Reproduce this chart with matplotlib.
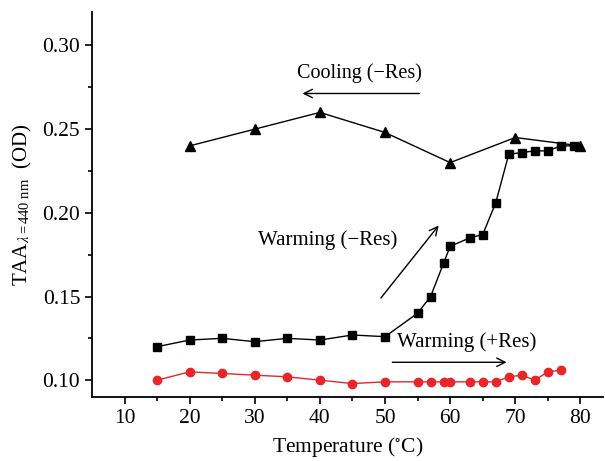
import matplotlib
matplotlib.use("Agg")
import matplotlib.pyplot as plt

plt.rcParams['font.family'] = ['Liberation Serif', 'DejaVu Serif']
plt.rcParams['mathtext.fontset'] = 'stix'

cool_t = [20, 30, 40, 50, 60, 70, 80]
cool_od = [0.240, 0.250, 0.260, 0.248, 0.230, 0.245, 0.240]

warm_t = [15, 20, 25, 30, 35, 40, 45, 50, 55, 57, 59, 60, 63, 65, 67, 69, 71, 73, 75, 77, 79]
warm_od = [0.120, 0.124, 0.125, 0.123, 0.125, 0.124, 0.127, 0.126, 0.140, 0.150, 0.170,
           0.180, 0.185, 0.187, 0.206, 0.235, 0.236, 0.237, 0.237, 0.240, 0.240]

res_t = [15, 20, 25, 30, 35, 40, 45, 50, 55, 57, 59, 60, 63, 65, 67, 69, 71, 73, 75, 77]
res_od = [0.100, 0.105, 0.104, 0.103, 0.102, 0.100, 0.098, 0.099, 0.099, 0.099, 0.099,
          0.099, 0.099, 0.099, 0.099, 0.102, 0.103, 0.100, 0.105, 0.106]

fig = plt.figure(figsize=(6.05, 4.61), dpi=100)
ax = fig.add_axes([0.152, 0.139, 0.845, 0.835])

ax.plot(cool_t, cool_od, color='black', marker='^', markersize=7, linewidth=1)
ax.plot(warm_t, warm_od, color='black', marker='s', markersize=5.5, linewidth=1)
ax.plot(res_t, res_od, color='#e8262a', marker='o', markersize=6, linewidth=1)

ax.set_xlim(5, 83.5)
ax.set_ylim(0.09, 0.32)
ax.set_xticks([10, 20, 30, 40, 50, 60, 70, 80])
ax.set_xticks(range(15, 85, 10), minor=True)
ax.set_yticks([0.10, 0.15, 0.20, 0.25, 0.30])
ax.set_yticks([0.125, 0.175, 0.225, 0.275], minor=True)
ax.set_yticklabels(['0.10', '0.15', '0.20', '0.25', '0.30'])
ax.tick_params(which='major', direction='out', length=5, width=1.2, labelsize=15.5)
ax.tick_params(which='minor', direction='out', length=3, width=1.2)
for s in ['top', 'right']:
    ax.spines[s].set_visible(False)
for s in ['left', 'bottom']:
    ax.spines[s].set_linewidth(1.3)

ax.set_xlabel('Temperature ($^{\\circ}$C)', fontsize=15.5, labelpad=5)
ax.set_ylabel(r'TAA$_{\lambda\mathregular{=440\ nm}}$  (OD)', fontsize=15, labelpad=6)

ax.text(46.1, 0.2833, 'Cooling (\u2212Res)', fontsize=14.5, ha='center', va='center')
ax.annotate('', xy=(36.9, 0.2713), xytext=(55.7, 0.2713),
            arrowprops=dict(arrowstyle='->', color='black', lw=1, mutation_scale=15))
ax.text(41.2, 0.1836, 'Warming (\u2212Res)', fontsize=15, ha='center', va='center')
ax.annotate('', xy=(58.5, 0.1937), xytext=(49.1, 0.1478),
            arrowprops=dict(arrowstyle='->', color='black', lw=1, mutation_scale=15))
ax.text(62.5, 0.1227, 'Warming (+Res)', fontsize=15, ha='center', va='center')
ax.annotate('', xy=(69.1, 0.1107), xytext=(50.7, 0.1107),
            arrowprops=dict(arrowstyle='->', color='black', lw=1, mutation_scale=15))

fig.savefig('out.png', dpi=100)
